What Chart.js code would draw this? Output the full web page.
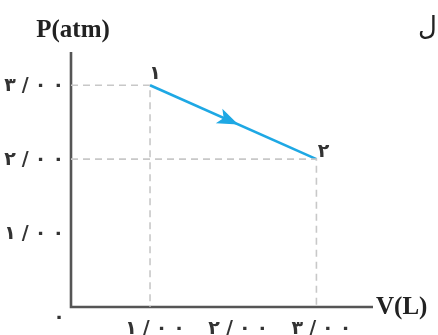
<!DOCTYPE html>
<html>
<head>
<meta charset="utf-8">
<script src="https://cdn.jsdelivr.net/npm/chart.js@4"></script>
<style>
  html, body { margin: 0; padding: 0; background: #fff; }
  #wrap { width: 438px; height: 335px; }
</style>
</head>
<body>
<div id="wrap"><canvas id="pv"></canvas></div>
<script>
// process 1 -> 2 on a P-V diagram
const volumes = [1, 3];        // V(L)
const pressures = [3, 2];      // P(atm)
const stateLabels = ["۱", "۲"];
const xTicks = [1, 2, 3];
const yTicks = [1, 2, 3];
const tickText = ["۱/۰۰", "۲/۰۰", "۳/۰۰"];
const originText = "۰";

const xMin = 0.05, xMax = 3.68;
const yMin = 0, yMax = 3.45;

const blue = "rgb(30, 168, 228)";
const dashGrey = "#c8c8c8";
const axisGrey = "#555";

const points = volumes.map((v, i) => ({ x: v, y: pressures[i] }));

// dashed guides from each state to both axes
const guides = points.map(p => ({
  data: [{ x: xMin, y: p.y }, { x: p.x, y: p.y }, { x: p.x, y: yMin }],
  borderColor: dashGrey,
  borderWidth: 1.6,
  borderDash: [7, 5],
  pointRadius: 0,
  showLine: true,
  fill: false,
}));

// the book spreads the digits out, canvas letterSpacing skips arabic digits
function spacedText(ctx, text, x, y, align, gap) {
  const chars = Array.from(text);
  const widths = chars.map(c => ctx.measureText(c).width);
  const total = widths.reduce((a, b) => a + b, 0) + gap * (chars.length - 1);
  let cx = align === "right" ? x - total : align === "center" ? x - total / 2 : x;
  ctx.save();
  ctx.textAlign = "left";
  chars.forEach((c, i) => {
    ctx.fillText(c, cx, y);
    cx += widths[i] + gap;
  });
  ctx.restore();
}

const pvPlugin = {
  id: "pvDecor",
  beforeDatasetsDraw(chart) {
    const { ctx, chartArea } = chart;
    ctx.save();
    ctx.strokeStyle = axisGrey;
    ctx.lineWidth = 2.6;
    ctx.beginPath();
    ctx.moveTo(chartArea.left, chartArea.top);
    ctx.lineTo(chartArea.left, chartArea.bottom);
    ctx.lineTo(chartArea.right, chartArea.bottom);
    ctx.stroke();
    ctx.restore();
  },
  afterDatasetsDraw(chart) {
    const { ctx, chartArea, scales } = chart;
    const x0 = chartArea.left;
    const y0 = chartArea.bottom;
    ctx.save();

    // arrow in the middle of the process line
    const ax = scales.x.getPixelForValue(volumes[0]), ay = scales.y.getPixelForValue(pressures[0]);
    const bx = scales.x.getPixelForValue(volumes[1]), by = scales.y.getPixelForValue(pressures[1]);
    const ang = Math.atan2(by - ay, bx - ax);
    const mx = ax + (bx - ax) * 0.47, my = ay + (by - ay) * 0.47;
    ctx.translate(mx, my);
    ctx.rotate(ang);
    ctx.fillStyle = blue;
    ctx.beginPath();
    ctx.moveTo(11, 0);
    ctx.lineTo(-10, -8);
    ctx.lineTo(-5, 0);
    ctx.lineTo(-10, 8);
    ctx.closePath();
    ctx.fill();
    ctx.setTransform(1, 0, 0, 1, 0, 0);

    // tick labels
    ctx.fillStyle = "#333";
    ctx.font = "bold 19px 'DejaVu Sans'";
    ctx.textBaseline = "middle";
    yTicks.forEach((v, i) => {
      spacedText(ctx, tickText[i], x0 - 7, scales.y.getPixelForValue(v) + 1, "right", 6);
    });
    xTicks.forEach((v, i) => {
      spacedText(ctx, tickText[i], scales.x.getPixelForValue(v) + 5, y0 + 22, "center", 6);
    });
    ctx.textAlign = "center";
    ctx.fillText(originText, x0 - 12, y0 + 11);

    // state numbers
    ctx.fillText(stateLabels[0], ax + 5, ay - 11);
    ctx.fillText(stateLabels[1], bx + 7, by - 7);

    // axis titles
    ctx.fillStyle = "#222";
    ctx.font = "bold 25px 'Liberation Serif'";
    ctx.fillText("P(atm)", x0 + 2, 31);
    ctx.textAlign = "left";
    ctx.fillText("V(L)", chartArea.right + 3, y0 + 1);

    ctx.font = "26px 'DejaVu Sans'";
    ctx.fillText("ل", 418, 28);
    ctx.restore();
  },
};

new Chart(document.getElementById("pv"), {
  type: "scatter",
  data: {
    datasets: [
      ...guides,
      {
        data: points,
        borderColor: blue,
        borderWidth: 2.6,
        pointRadius: 0,
        showLine: true,
        fill: false,
      },
    ],
  },
  options: {
    responsive: true,
    maintainAspectRatio: false,
    animation: false,
    layout: { padding: { left: 71, right: 65, top: 52, bottom: 28 } },
    plugins: {
      legend: { display: false },
      tooltip: { enabled: false },
    },
    scales: {
      x: { type: "linear", min: xMin, max: xMax, display: false },
      y: { type: "linear", min: yMin, max: yMax, display: false },
    },
  },
  plugins: [pvPlugin],
});
</script>
</body>
</html>
